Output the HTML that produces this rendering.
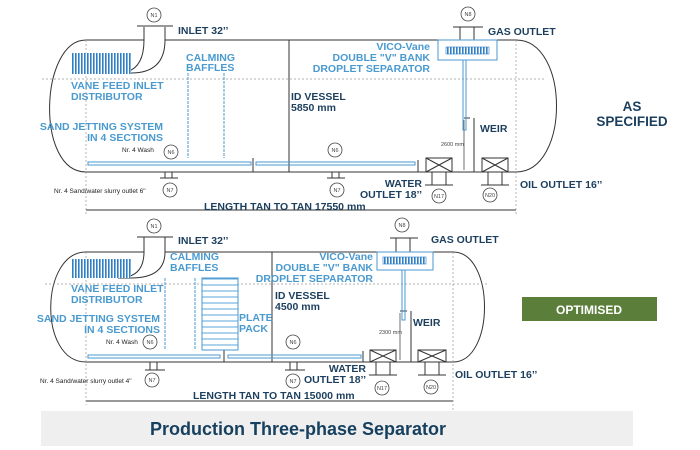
<!DOCTYPE html>
<html><head><meta charset="utf-8"><style>
html,body{margin:0;padding:0;background:#fff;width:700px;height:450px;overflow:hidden}
svg{display:block}
text{font-family:"Liberation Sans","DejaVu Sans",sans-serif}
.n{fill:#1c3f5e;font-weight:bold;font-size:10.5px}
.b{fill:#4a9ad0;font-weight:bold;font-size:10.5px}
.s{fill:#222;font-size:6.5px}
.c{fill:#444;font-size:5.5px}
</style></head><body>
<svg width="700" height="450" viewBox="0 0 700 450" xmlns="http://www.w3.org/2000/svg">
<defs>
<pattern id="v" width="3" height="10" patternUnits="userSpaceOnUse"><rect width="3" height="10" fill="#fff"/><rect width="1.6" height="10" fill="#2f7fc4"/></pattern>
<pattern id="pp" width="10" height="6" patternUnits="userSpaceOnUse"><rect width="10" height="6" fill="#fff"/><rect y="2.5" width="10" height="1" fill="#5aa6dc"/></pattern>
</defs>
<g fill="none" stroke="#333" stroke-width="1">
<!-- TOP VESSEL -->
<path d="M86 40 C40 40 35 172 86 172"/>
<path d="M516 40 C570 40 570 172 516 172"/>
<line x1="86" y1="40" x2="144" y2="40"/><line x1="165" y1="40" x2="438" y2="40"/><line x1="497" y1="40" x2="516" y2="40"/>
<line x1="86" y1="172" x2="516" y2="172"/>
<path d="M144 27 V40 Q144 73 118 73 H131"/>
<path d="M165 27 V40 Q165 73 131 73"/>
<line x1="137" y1="26" x2="173" y2="26"/>
<line x1="460" y1="27" x2="460" y2="40"/><line x1="474" y1="27" x2="474" y2="40"/><line x1="453" y1="27" x2="483" y2="27"/>
<line x1="289" y1="40" x2="289" y2="172"/>
<line x1="474" y1="118" x2="474" y2="172"/><line x1="464" y1="118" x2="470" y2="118"/>
<line x1="464" y1="120" x2="464" y2="170" stroke-width="0.7"/>
<rect x="426" y="158" width="26" height="14"/><path d="M426 158 L452 172 M452 158 L426 172"/>
<rect x="482" y="158" width="26" height="14"/><path d="M482 158 L508 172 M508 158 L482 172"/>
<path d="M432 172 V185 M446 172 V185 M425 185 H453"/>
<path d="M488 172 V185 M502 172 V185 M481 185 H509"/>
<path d="M165 172 V178 M172 172 V178 M160 178 H178"/>
<path d="M332 172 V178 M339 172 V178 M327 178 H345"/>
<line x1="253" y1="158" x2="253" y2="172"/><line x1="418" y1="160" x2="418" y2="172"/>
<line x1="86" y1="210" x2="516" y2="210"/>
<!-- BOTTOM VESSEL -->
<path d="M86 252 C40 252 38 362 86 362"/>
<path d="M453 252 C495 252 495 362 453 362"/>
<line x1="86" y1="252" x2="144" y2="252"/><line x1="165" y1="252" x2="377" y2="252"/><line x1="433" y1="252" x2="453" y2="252"/>
<line x1="86" y1="362" x2="453" y2="362"/>
<path d="M144 237 V252 Q144 278 118 278 H131"/>
<path d="M165 237 V252 Q165 278 131 278"/>
<line x1="137" y1="237" x2="173" y2="237"/>
<line x1="396" y1="238" x2="396" y2="252"/><line x1="410" y1="238" x2="410" y2="252"/><line x1="390" y1="238" x2="418" y2="238"/>
<line x1="272" y1="252" x2="272" y2="362"/>
<line x1="411" y1="311" x2="411" y2="362"/><line x1="400" y1="311" x2="407" y2="311"/>
<line x1="400" y1="313" x2="400" y2="360" stroke-width="0.7"/>
<rect x="370" y="350" width="26" height="12"/><path d="M370 350 L396 362 M396 350 L370 362"/>
<rect x="418" y="350" width="28" height="12"/><path d="M418 350 L446 362 M446 350 L418 362"/>
<path d="M376 362 V375 M390 362 V375 M369 375 H397"/>
<path d="M425 362 V375 M439 362 V375 M418 375 H446"/>
<path d="M150 362 V370 M157 362 V370 M145 370 H165"/>
<path d="M290 362 V370 M297 362 V370 M285 370 H305"/>
<line x1="224" y1="350" x2="224" y2="362"/><line x1="363" y1="351" x2="363" y2="362"/>
<line x1="86" y1="401" x2="453" y2="401"/>
</g>
<!-- dashed lines -->
<g stroke="#999" stroke-width="0.7" stroke-dasharray="2,2" fill="none">
<line x1="42" y1="79" x2="545" y2="79"/>
<line x1="86" y1="40" x2="86" y2="214"/><line x1="516" y1="40" x2="516" y2="214"/>
<line x1="45" y1="284" x2="487" y2="284"/>
<line x1="86" y1="252" x2="86" y2="405"/><line x1="453" y1="252" x2="453" y2="410"/>
</g>
<!-- blue items -->
<rect x="71" y="53" width="60" height="21" fill="url(#v)"/>
<rect x="71" y="259" width="60" height="19" fill="url(#v)"/>
<g stroke="#4a9ad0" stroke-width="1" fill="none">
<line x1="188" y1="73" x2="188" y2="158" stroke-dasharray="3,1"/><line x1="224" y1="73" x2="224" y2="158" stroke-dasharray="3,1"/>
<rect x="88" y="162" width="163" height="3"/><rect x="256" y="162" width="159" height="3"/>
<rect x="438" y="40" width="59" height="20"/>
<rect x="463" y="60" width="3" height="70"/>
<line x1="165" y1="278" x2="165" y2="350" stroke-dasharray="3,1"/><line x1="195" y1="278" x2="195" y2="350" stroke-dasharray="3,1"/>
<rect x="88" y="355" width="132" height="3"/><rect x="228" y="355" width="133" height="3"/>
<rect x="377" y="252" width="56" height="18"/>
<rect x="402" y="270" width="3" height="50"/>
</g>
<rect x="446" y="47" width="43" height="7" fill="url(#v)" stroke="#2f7fc4" stroke-width="0.6"/>
<rect x="383" y="257" width="43" height="7" fill="url(#v)" stroke="#2f7fc4" stroke-width="0.6"/>
<rect x="202" y="278" width="36" height="72" fill="url(#pp)" stroke="#4a9ad0"/>
<!-- circles -->
<g fill="#fff" stroke="#444" stroke-width="0.8">
<circle cx="154" cy="15" r="7"/><circle cx="468" cy="14" r="7"/><circle cx="171" cy="152" r="7"/><circle cx="335" cy="150" r="7"/>
<circle cx="170" cy="190" r="7"/><circle cx="337" cy="190" r="7"/><circle cx="439" cy="196" r="7"/><circle cx="490" cy="195" r="7"/>
<circle cx="154" cy="226" r="7"/><circle cx="402" cy="225" r="7"/><circle cx="150" cy="342" r="7"/><circle cx="293" cy="342" r="7"/>
<circle cx="152" cy="380" r="7"/><circle cx="293" cy="381" r="7"/><circle cx="382" cy="388" r="7"/><circle cx="431" cy="387" r="7"/>
</g>
<g class="c" text-anchor="middle">
<text x="154" y="17">N1</text><text x="468" y="16">N8</text><text x="171" y="154">N6</text><text x="335" y="152">N6</text>
<text x="170" y="192">N7</text><text x="337" y="192">N7</text><text x="439" y="198">N17</text><text x="490" y="197">N20</text>
<text x="154" y="228">N1</text><text x="402" y="227">N8</text><text x="150" y="344">N6</text><text x="293" y="344">N6</text>
<text x="152" y="382">N7</text><text x="293" y="383">N7</text><text x="382" y="390">N17</text><text x="431" y="389">N20</text>
</g>
<!-- top labels -->
<text class="n" x="178" y="34">INLET 32’’</text>
<text class="n" x="488" y="35">GAS OUTLET</text>
<text class="b" x="186" y="61">CALMING</text><text class="b" x="186" y="71">BAFFLES</text>
<text class="b" x="71" y="89">VANE FEED INLET</text><text class="b" x="71" y="100">DISTRIBUTOR</text>
<text class="b" x="163" y="130" text-anchor="end">SAND JETTING SYSTEM</text><text class="b" x="163" y="141" text-anchor="end">IN 4 SECTIONS</text>
<text class="b" x="430" y="50" text-anchor="end">VICO-Vane</text><text class="b" x="430" y="61" text-anchor="end">DOUBLE "V" BANK</text><text class="b" x="430" y="72" text-anchor="end">DROPLET SEPARATOR</text>
<text class="n" x="291" y="100">ID VESSEL</text><text class="n" x="291" y="111">5850 mm</text>
<text class="n" x="480" y="132">WEIR</text>
<text class="s" x="122" y="152">Nr. 4  Wash</text>
<text class="s" x="54" y="193">Nr. 4  Sand/water slurry outlet 6"</text>
<text class="c" x="441" y="146">2600 mm</text>
<text class="n" x="422" y="187" text-anchor="end">WATER</text><text class="n" x="422" y="198" text-anchor="end">OUTLET 18’’</text>
<text class="n" x="520" y="188">OIL OUTLET 16’’</text>
<text class="n" x="204" y="210">LENGTH TAN TO TAN 17550 mm</text>
<text class="n" x="632" y="111" text-anchor="middle" style="font-size:13.5px">AS</text>
<text class="n" x="632" y="126" text-anchor="middle" style="font-size:13.5px">SPECIFIED</text>
<!-- bottom labels -->
<text class="n" x="178" y="244">INLET 32’’</text>
<text class="n" x="431" y="243">GAS OUTLET</text>
<text class="b" x="170" y="260">CALMING</text><text class="b" x="170" y="271">BAFFLES</text>
<text class="b" x="71" y="292">VANE FEED INLET</text><text class="b" x="71" y="303">DISTRIBUTOR</text>
<text class="b" x="160" y="322" text-anchor="end">SAND JETTING SYSTEM</text><text class="b" x="160" y="333" text-anchor="end">IN 4 SECTIONS</text>
<text class="b" x="239" y="321">PLATE</text><text class="b" x="239" y="332">PACK</text>
<text class="b" x="373" y="260" text-anchor="end">VICO-Vane</text><text class="b" x="373" y="271" text-anchor="end">DOUBLE "V" BANK</text><text class="b" x="373" y="282" text-anchor="end">DROPLET SEPARATOR</text>
<text class="n" x="275" y="299">ID VESSEL</text><text class="n" x="275" y="310">4500 mm</text>
<text class="n" x="413" y="326">WEIR</text>
<text class="s" x="106" y="344">Nr. 4  Wash</text>
<text class="s" x="40" y="383">Nr. 4  Sand/water slurry outlet 4"</text>
<text class="c" x="379" y="334">2300 mm</text>
<text class="n" x="366" y="372" text-anchor="end">WATER</text><text class="n" x="366" y="383" text-anchor="end">OUTLET 18’’</text>
<text class="n" x="455" y="378">OIL OUTLET 16’’</text>
<text class="n" x="193" y="399">LENGTH TAN TO TAN 15000 mm</text>
<rect x="522" y="297" width="135" height="24" fill="#5b7f3b"/>
<text x="589" y="314" text-anchor="middle" style="fill:#fff;font-weight:bold;font-size:12px">OPTIMISED</text>
<rect x="41" y="411" width="592" height="35" fill="#efefef"/>
<text x="298" y="435" text-anchor="middle" style="fill:#17405f;font-weight:bold;font-size:18px">Production Three-phase Separator</text>
</svg>
</body></html>
